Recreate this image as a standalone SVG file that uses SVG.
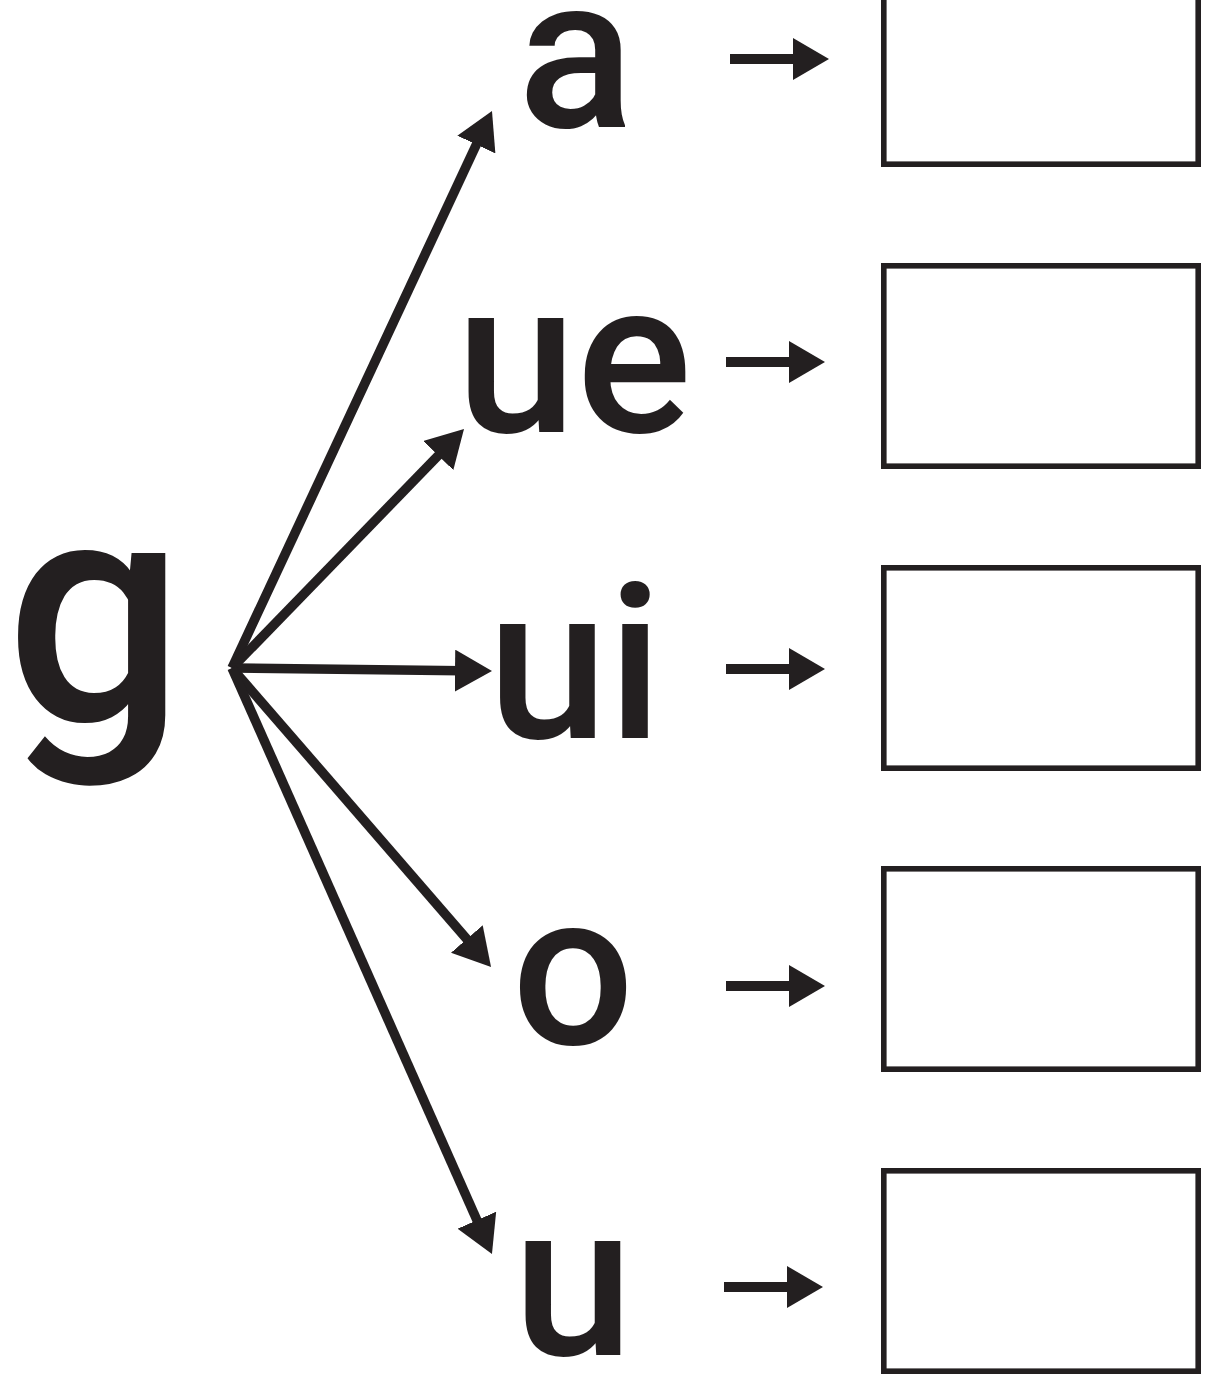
<svg xmlns="http://www.w3.org/2000/svg" width="1210" height="1374" viewBox="0 0 1210 1374">
<style>
  .lt { font-family: Roboto, "Liberation Sans", sans-serif; font-weight: 500; fill: #231f20; text-anchor: middle; }
  .small { font-size: 216px; }
  .big { font-size: 316px; }
  .fan { stroke: #231f20; stroke-width: 9.5; fill: none; marker-end: url(#head); }
  .short { stroke: #231f20; stroke-width: 10; fill: none; marker-end: url(#head2); }
  .box { fill: #ffffff; stroke: #231f20; stroke-width: 5.6; }
</style>
<defs>
  <marker id="head" viewBox="0 0 37 42" refX="7" refY="21" markerWidth="37" markerHeight="42" markerUnits="userSpaceOnUse" orient="auto">
    <path d="M0,0 L37,21 L0,42 z" fill="#231f20"/>
  </marker>
  <marker id="head2" viewBox="0 0 36 42" refX="4" refY="21" markerWidth="36" markerHeight="42" markerUnits="userSpaceOnUse" orient="auto">
    <path d="M0,0 L36,21 L0,42 z" fill="#231f20"/>
  </marker>
</defs>
<rect width="1210" height="1374" fill="#ffffff"/>

<g id="node-g"><text class="lt big" x="95" y="720">g</text></g>

<g id="node-a"><text class="lt small" x="576" y="127">a</text></g>
<g id="node-ue"><text class="lt small" x="574" y="432">ue</text></g>
<g id="node-ui"><text class="lt small" x="575" y="738">ui</text></g>
<g id="node-o"><text class="lt small" x="573" y="1044">o</text></g>
<g id="node-u"><text class="lt small" x="573" y="1355">u</text></g>

<g id="box-1"><rect class="box" x="883.8" y="-36.2" width="314.4" height="200.4"/></g>
<g id="box-2"><rect class="box" x="883.8" y="265.8" width="314.4" height="200.4"/></g>
<g id="box-3"><rect class="box" x="883.8" y="567.8" width="314.4" height="200.4"/></g>
<g id="box-4"><rect class="box" x="883.8" y="868.8" width="314.4" height="200.4"/></g>
<g id="box-5"><rect class="box" x="883.8" y="1170.8" width="314.4" height="200.4"/></g>

<g id="connectors">
  <line class="fan" x1="232" y1="668" x2="479.3" y2="138.2"/>
  <line class="fan" x1="232" y1="668" x2="443.1" y2="450.5"/>
  <line class="fan" x1="232" y1="668" x2="462" y2="670.7"/>
  <line class="fan" x1="232" y1="668" x2="471.4" y2="944.3"/>
  <line class="fan" x1="232" y1="668" x2="479.8" y2="1226.6"/>
  <line class="short" x1="730" y1="59" x2="797" y2="59"/>
  <line class="short" x1="726" y1="362" x2="793" y2="362"/>
  <line class="short" x1="726" y1="669" x2="793" y2="669"/>
  <line class="short" x1="726" y1="986" x2="793" y2="986"/>
  <line class="short" x1="724" y1="1287" x2="791" y2="1287"/>
</g>
</svg>
